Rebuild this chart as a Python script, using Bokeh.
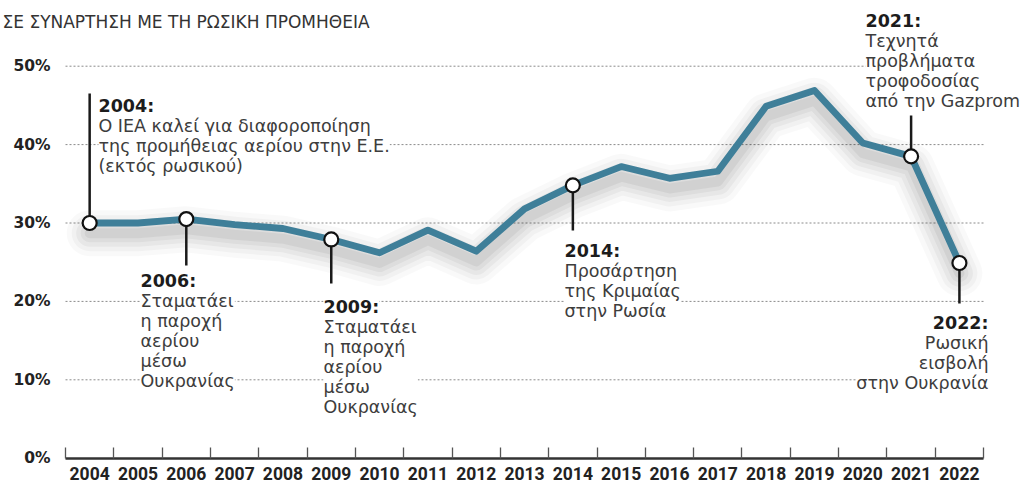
from bokeh.plotting import figure
from bokeh.models import Range1d, FixedTicker, Label, ColumnDataSource
from bokeh.embed import file_html
from bokeh.resources import INLINE

# ---------------- data ----------------
years = ["2004", "2005", "2006", "2007", "2008", "2009", "2010", "2011", "2012", "2013",
         "2014", "2015", "2016", "2017", "2018", "2019", "2020", "2021", "2022"]
share = [30.0, 30.0, 30.5, 29.8, 29.3, 27.9, 26.2, 29.1, 26.4, 31.8,
         34.8, 37.2, 35.7, 36.6, 44.9, 46.9, 40.2, 38.5, 24.9]
y_ticks = [0, 10, 20, 30, 40, 50]
y_tick_labels = ["0%", "10%", "20%", "30%", "40%", "50%"]
subtitle = "ΣΕ ΣΥΝΑΡΤΗΣΗ ΜΕ ΤΗ ΡΩΣΙΚΗ ΠΡΟΜΗΘΕΙΑ"

event_years = ["2004", "2006", "2009", "2014", "2021", "2022"]
event_heads = ["2004:", "2006:", "2009:", "2014:", "2021:", "2022:"]
event_texts = [
    ["Ο ΙΕΑ καλεί για διαφοροποίηση", "της προμήθειας αερίου στην Ε.Ε.", "(εκτός ρωσικού)"],
    ["Σταματάει", "η παροχή", "αερίου", "μέσω", "Ουκρανίας"],
    ["Σταματάει", "η παροχή", "αερίου", "μέσω", "Ουκρανίας"],
    ["Προσάρτηση", "της Κριμαίας", "στην Ρωσία"],
    ["Τεχνητά", "προβλήματα", "τροφοδοσίας", "από την Gazprom"],
    ["Ρωσική", "εισβολή", "στην Ουκρανία"],
]

# ---------------- layout ----------------
W, H = 1023, 484
X0_PX = 65.0        # pixel of the left band edge (x = -0.5)
AX_PX = 457.7       # pixel of the 0% baseline
PX_X = 48.32        # pixels per year band
PX_Y = 7.84         # pixels per percentage point

X_START = -0.5 - X0_PX / PX_X
X_END = -0.5 + (W - X0_PX) / PX_X
Y_START = -(H - AX_PX) / PX_Y
Y_END = AX_PX / PX_Y


def xd(px):  # pixel -> data x (for placing callout texts)
    return (px - X0_PX) / PX_X - 0.5


def yd(py):  # pixel -> data y
    return (AX_PX - py) / PX_Y


# text x, header row y, alignment, end of callout stick (pixels)
event_layout = [
    (98, 105, "left", 93),
    (140, 280, "left", 265),
    (323, 306, "left", 283),
    (564, 250, "left", 230),
    (865, 20, "left", 115),
    (988, 322, "right", 303),
]
ROW = 20.2

LINE_C = "#3f7f99"
TXT_C = "#3d3d3d"
BOLD_C = "#1c1c1c"
FONT = "DejaVu Sans"

p = figure(width=W, height=H, x_range=Range1d(X_START, X_END), y_range=Range1d(Y_START, Y_END),
           output_backend="svg", toolbar_location=None,
           min_border_left=0, min_border_right=0, min_border_top=0, min_border_bottom=0)
p.outline_line_color = None
p.xgrid.grid_line_color = None
p.ygrid.grid_line_color = None
p.background_fill_color = "white"
p.border_fill_color = "white"

# x axis at 0%: labels centred in bands, ticks at band edges
xa = p.xaxis[0]
xa.fixed_location = 0
xa.ticker = FixedTicker(ticks=list(range(len(years))),
                        minor_ticks=[i - 0.5 for i in range(len(years) + 1)])
xa.major_label_overrides = {i: y for i, y in enumerate(years)}
xa.major_tick_line_color = None
xa.major_tick_in = 0
xa.major_tick_out = 0
xa.minor_tick_in = 11
xa.minor_tick_out = 0
xa.minor_tick_line_color = "#555555"
xa.minor_tick_line_width = 1.3
xa.axis_line_color = "#333333"
xa.axis_line_width = 2.5
xa.bounds = (-0.5, len(years) - 0.5)
xa.major_label_standoff = 9
xa.major_label_text_font = "Roboto"
xa.major_label_text_font_size = "17.5px"
xa.major_label_text_font_style = "bold"
xa.major_label_text_color = "#222222"

ya = p.yaxis[0]
ya.fixed_location = -0.5
ya.ticker = FixedTicker(ticks=y_ticks)
ya.major_label_overrides = {v: l for v, l in zip(y_ticks, y_tick_labels)}
ya.axis_line_color = None
ya.major_tick_line_color = None
ya.minor_tick_line_color = None
ya.major_tick_in = 0
ya.major_tick_out = 0
ya.major_label_standoff = 15
ya.major_label_text_font = FONT
ya.major_label_text_font_size = "15.5px"
ya.major_label_text_font_style = "bold"
ya.major_label_text_color = "#222222"

# dotted grid lines
grid_vals = [v for v in y_ticks if v > 0]
p.segment(x0=[-0.5] * len(grid_vals), x1=[xd(985)] * len(grid_vals), y0=grid_vals, y1=grid_vals,
          line_color="#8a8a8a", line_width=1, line_dash="2 2")

xs = list(range(len(years)))
src = ColumnDataSource(dict(x=xs, y=share, ys=[v - 1.3 for v in share]))

# soft shadow under the line
for w, a in [(46, 0.022), (36, 0.03), (27, 0.038), (18, 0.045), (10, 0.05)]:
    p.line("x", "ys", source=src, line_color="black", line_alpha=a, line_width=w,
           line_join="round", line_cap="round")

p.line("x", "y", source=src, line_color=LINE_C, line_width=6.8, line_join="round", line_cap="round")

# callouts
ev_idx = [years.index(y) for y in event_years]
ev_val = [share[i] for i in ev_idx]
ev_end = [yd(lay[3]) for lay in event_layout]
p.segment(x0=ev_idx, x1=ev_idx, y0=ev_val, y1=ev_end, line_color="#1a1a1a", line_width=2.5)
p.scatter(x=ev_idx, y=ev_val, size=14, fill_color="white", line_color="#111111", line_width=2.2)

for head, lines, (tx, ty, align, _) in zip(event_heads, event_texts, event_layout):
    p.add_layout(Label(x=xd(tx), y=yd(ty), text=head, text_align=align,
                       text_baseline="middle", text_font=FONT, text_font_size="17.5px",
                       text_font_style="bold", text_color=BOLD_C,
                       background_fill_color="white"))
    n = len(lines)
    centre = ty + ROW * (1 + n) / 2.0
    p.add_layout(Label(x=xd(tx), y=yd(centre), text="\n".join(lines), text_align=align,
                       text_baseline="middle", text_font=FONT, text_font_size="17.5px",
                       text_line_height=1.0, text_color=TXT_C,
                       background_fill_color="white"))

p.add_layout(Label(x=xd(2), y=yd(21), text=subtitle, text_align="left", text_baseline="middle",
                   text_font=FONT, text_font_size="17px", text_color="#333333"))

open("out.html", "w").write(file_html(p, INLINE))
